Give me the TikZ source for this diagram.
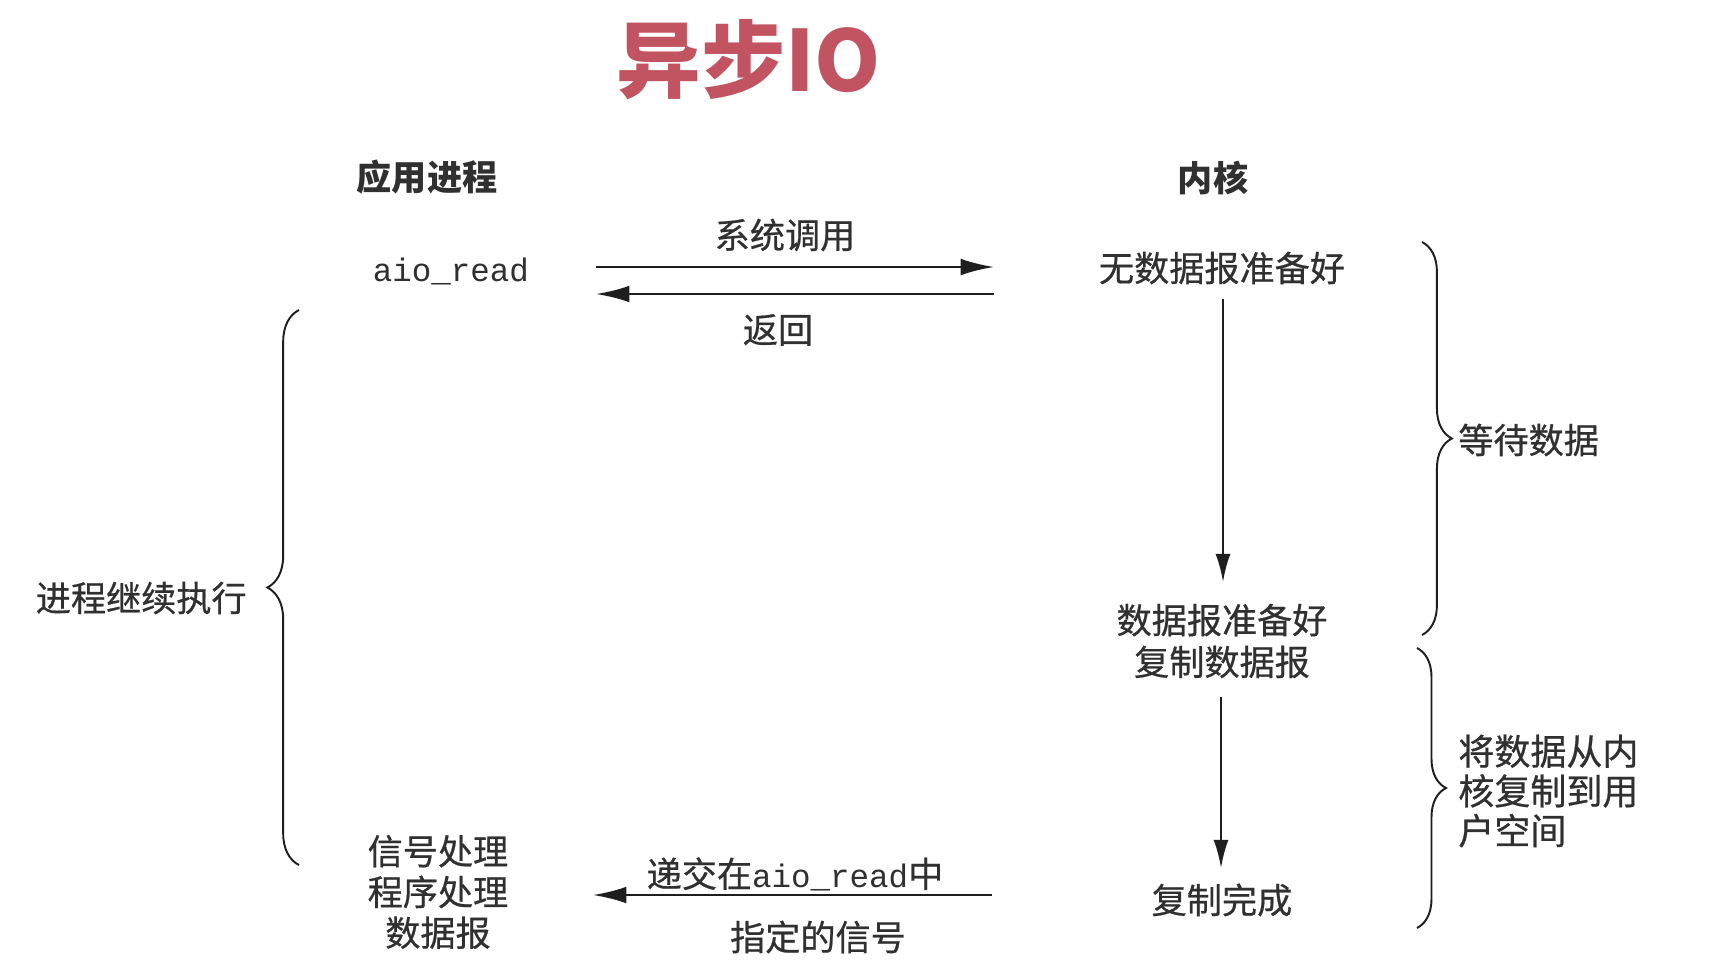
\documentclass[tikz,border=0pt]{standalone}
\usepackage{fontspec}
\setmainfont{Noto Sans CJK SC}
\newfontfamily\cjkm[FakeBold=0.6]{Noto Sans CJK SC}
\newfontfamily\monof{Liberation Mono}
\usetikzlibrary{arrows.meta,decorations.pathreplacing}
\definecolor{titlered}{RGB}{194,84,98}
\definecolor{txt}{RGB}{48,48,48}
\definecolor{ln}{RGB}{30,30,30}
\begin{document}
\begin{tikzpicture}[x=0.02cm,y=-0.02cm,
  lbl/.style={text=txt, inner sep=0pt, font=\fontsize{20pt}{23.5pt}\selectfont\cjkm},
  head/.style={text=txt, inner sep=0pt, font=\fontsize{20pt}{24pt}\selectfont\bfseries},
  titlestyle/.style={text=titlered, inner sep=0pt, font=\fontsize{48pt}{54pt}\selectfont\bfseries},
  mono/.style={text=txt, inner sep=0pt, font=\fontsize{18.5pt}{22pt}\selectfont\monof},
  arr/.style={draw=ln, line width=1.4pt, -{Latex[length=19pt,width=9.5pt]}},
  varr/.style={draw=ln, line width=1.4pt, -{Latex[length=16pt,width=8.5pt]}},
  brc/.style={draw=ln, line width=1.1pt, decorate, decoration={brace, amplitude=#1}}
]
\useasboundingbox[fill=white] (0,0) rectangle (1722,978);

\node[titlestyle] (title) at (749,60) {异步IO};
\node[head] (app) at (427,177) {应用进程};
\node[head] (kern) at (1213,178) {内核};

\node[mono] (aio) at (451,271) {aio\_read};
\node[lbl] (syscall) at (785,235) {系统调用};
\node[lbl] (ret) at (778,330) {返回};

\node[lbl] (nodata) at (1222,268) {无数据报准备好};
\node[lbl, align=center, font=\fontsize{20pt}{23.8pt}\selectfont\cjkm] (ready) at (1222,641) {数据报准备好\\复制数据报};
\node[lbl] (done) at (1222,900) {复制完成};

\node[lbl, align=center, font=\fontsize{20pt}{23.2pt}\selectfont\cjkm] (handler) at (438,892) {信号处理\\程序处理\\数据报};
\node[lbl] (deliver) at (795,874) {递交在{\fontsize{18.5pt}{22pt}\selectfont\monof aio\_read}中};
\node[lbl] (signal) at (818,937) {指定的信号};

\node[lbl, anchor=east] (cont) at (247,598) {进程继续执行};
\node[lbl, anchor=west] (wait) at (1458,440) {等待数据};
\node[lbl, anchor=west, align=left, font=\fontsize{20.5pt}{22.6pt}\selectfont\cjkm] (copy) at (1458,791) {将数据从内\\核复制到用\\户空间};

% horizontal connectors
\draw[arr] (aio) ++(145,-4) -- ++(398,0);
\draw[arr] (nodata) ++(-228,26) -- ++(-398,0);
\draw[arr] (done) ++(-230,-5) -- ++(-399,0);

% vertical connectors
\draw[varr] (nodata) ++(1,31) -- ++(0,283);
\draw[varr] (ready) ++(-1,56) -- ++(0,171);

% braces
\draw[brc=17pt] (1422,242) -- (1422,635);
\draw[brc=16.5pt] (1417,648) -- (1417,928);
\draw[brc=18pt] (299,865) -- (299,310);
\end{tikzpicture}
\end{document}
